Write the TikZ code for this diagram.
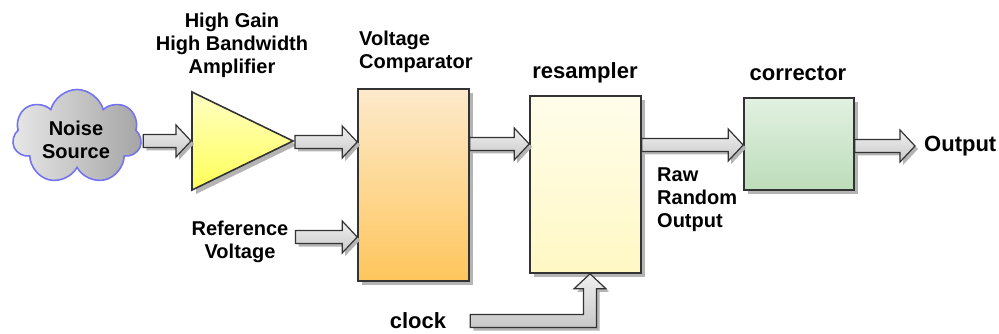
\documentclass[tikz,border=0pt]{standalone}
\usepackage{fontspec}
\setmainfont{Liberation Sans}
\usetikzlibrary{shapes.symbols,shadows,calc}
\definecolor{edge}{HTML}{333333}
\definecolor{shadowc}{HTML}{B4B4B4}
\definecolor{arrtop}{HTML}{F0F0F0}
\definecolor{arrbot}{HTML}{C8C8C8}
\definecolor{cloudblue}{HTML}{7474F2}
\definecolor{cloudl}{HTML}{E8E8E8}
\definecolor{cloudr}{HTML}{A4A4A4}
\definecolor{ampt}{HTML}{FFFFC4}
\definecolor{ampb}{HTML}{FFFF58}
\definecolor{compt}{HTML}{FDEACB}
\definecolor{compb}{HTML}{FEC65C}
\definecolor{rest}{HTML}{FFFDEA}
\definecolor{resb}{HTML}{FFF8C4}
\definecolor{corrt}{HTML}{E2F1E1}
\definecolor{corrb}{HTML}{BCDDBA}
\tikzset{
  lbl/.style={font=\fontsize{20}{23}\selectfont\bfseries, inner sep=0pt, align=center},
  biglbl/.style={font=\fontsize{22}{26}\selectfont\bfseries, inner sep=0pt},
  boxshadow/.style={drop shadow={shadow xshift=4pt, shadow yshift=-4pt, fill=shadowc, opacity=1}},
  blockbox/.style={draw=edge, line width=1.6pt, inner sep=0pt, boxshadow},
  blockarrow/.style={draw=edge, line width=1.2pt, line join=miter, top color=arrtop, bottom color=arrbot,
    drop shadow={shadow xshift=3pt, shadow yshift=-3pt, fill=shadowc, opacity=1}}
}
\newcommand\harrow[2]{%
  \path[blockarrow] let \p1=(#1), \p2=(#2) in
    (\x1,{\y2+6.5pt}) -- ({\x2-15pt},{\y2+6.5pt}) -- ({\x2-15pt},{\y2+16pt}) -- (\x2,\y2)
    -- ({\x2-15pt},{\y2-16pt}) -- ({\x2-15pt},{\y2-6.5pt}) -- (\x1,{\y2-6.5pt}) -- cycle;}
\begin{document}
\begin{tikzpicture}[x=1pt,y=-1pt]
\useasboundingbox (0,0) rectangle (999,334);
% cloud
\node[cloud, cloud puffs=7, cloud puff arc=150, aspect=1.35, draw=cloudblue, line width=1.6pt,
  left color=cloudl, right color=cloudr, minimum width=129pt, minimum height=95pt, inner sep=0pt] (cloud) at (77,137) {};
\node[lbl] (noise) at (76,140) {Noise\\Source};
% amplifier
\path[blockbox, top color=ampt, bottom color=ampb] (192,92) -- (293,141) -- (192,190) -- cycle;
\coordinate (ampin) at (191,141);
\coordinate (ampout) at (295,142);
% boxes
\node[blockbox, top color=compt, bottom color=compb, minimum width=111pt, minimum height=192pt] (comp) at (413.5,185) {};
\node[blockbox, top color=rest, bottom color=resb, minimum width=111pt, minimum height=177pt] (res) at (585.5,184.5) {};
\node[blockbox, top color=corrt, bottom color=corrb, minimum width=110pt, minimum height=92pt] (corr) at (799,144) {};
% labels
\node[lbl] (amplbl) at (232,45) {High Gain\\High Bandwidth\\Amplifier};
\node[lbl, align=left, anchor=west] (complbl) at (359,52) {Voltage\\Comparator};
\node[biglbl] (reslbl) at (585,73) {resampler};
\node[biglbl] (corrlbl) at (798,73) {corrector};
\node[lbl, align=left, anchor=west] (rawlbl) at (657,200) {Raw\\Random\\Output};
\node[lbl] (ref) at (240,242) {Reference\\Voltage};
\node[biglbl, anchor=west] (out) at (924,146) {Output};
\node[biglbl] (clk) at (418,321) {clock};
% arrows
\harrow{[xshift=2pt]cloud.east}{ampin}
\harrow{ampout}{comp.west |- ampout}
\harrow{[xshift=7pt]ref.east}{comp.west |- 0,237}
\harrow{comp.east}{res.west |- 0,144}
\harrow{res.east}{corr.west |- 0,145}
\harrow{corr.east}{[xshift=-9pt]out.west}
\path[blockarrow] let \p1=(clk.east), \p2=([xshift=4.5pt]res.south) in
  ({\x1+24pt},{\y1+6.5pt}) -- ({\x2-6.5pt},{\y1+6.5pt}) -- ({\x2-6.5pt},{\y2-15pt}) -- ({\x2-16pt},{\y2-15pt})
  -- (\x2,\y2) -- ({\x2+16pt},{\y2-15pt}) -- ({\x2+6.5pt},{\y2-15pt}) -- ({\x2+6.5pt},{\y1-6.5pt})
  -- ({\x1+24pt},{\y1-6.5pt}) -- cycle;
\end{tikzpicture}
\end{document}
